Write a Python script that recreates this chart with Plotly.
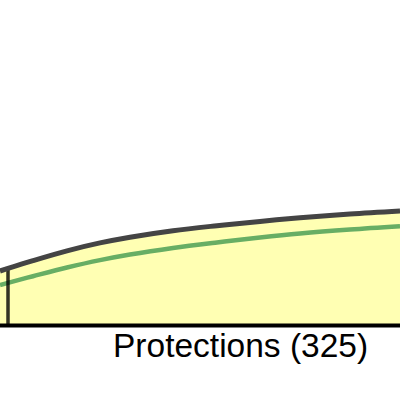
import plotly.graph_objects as go

# Values (x position along the band, height above the baseline)
x_pos = [0, 8, 33, 67, 100, 130, 173, 217, 260, 300, 350, 400]
outer_height = [54.5, 57.1, 64.9, 74.7, 82.6, 88.3, 94.8, 99.8, 104.1, 107.7, 111.4, 114.4]
inner_height = [40.5, 42.7, 49.3, 58.0, 65.4, 71.0, 77.6, 83.1, 88.0, 92.0, 96.0, 99.3]
divider_x = 8
divider_height = 57.1
label_text = "Protections (325)"
label_x = 240

fig = go.Figure()

fig.add_trace(go.Scatter(
    x=x_pos, y=outer_height, mode="lines", fill="tozeroy",
    fillcolor="#ffffb3", line=dict(width=0, shape="spline"),
    hoverinfo="skip", showlegend=False))

fig.add_trace(go.Scatter(
    x=x_pos, y=inner_height, mode="lines",
    line=dict(color="rgb(104,174,100)", width=4.5, shape="spline"),
    hoverinfo="skip", showlegend=False))

fig.add_trace(go.Scatter(
    x=[divider_x, divider_x], y=[0, divider_height], mode="lines",
    line=dict(color="rgba(0,0,0,0.8)", width=3.5),
    hoverinfo="skip", showlegend=False))

fig.add_trace(go.Scatter(
    x=x_pos, y=outer_height, mode="lines",
    line=dict(color="rgb(68,68,68)", width=5, shape="spline"),
    hoverinfo="skip", showlegend=False))

fig.add_trace(go.Scatter(
    x=[x_pos[0], x_pos[-1]], y=[0, 0], mode="lines",
    line=dict(color="black", width=4),
    hoverinfo="skip", showlegend=False))

fig.add_annotation(
    x=label_x, y=-19.5, xref="x", yref="y", text=label_text, showarrow=False,
    xanchor="center", yanchor="middle",
    font=dict(family="Arial, Liberation Sans, sans-serif", size=33.5, color="black"))

fig.update_layout(
    width=400, height=400, margin=dict(l=0, r=0, t=0, b=0),
    paper_bgcolor="white", plot_bgcolor="white",
    xaxis=dict(range=[0, 400], visible=False, fixedrange=True),
    yaxis=dict(range=[-74.5, 325.5], visible=False, fixedrange=True),
)

fig.write_html(
    "out.html",
    config={"displayModeBar": False},
    post_script="document.body.style.margin='0';document.body.style.overflow='hidden';",
)
